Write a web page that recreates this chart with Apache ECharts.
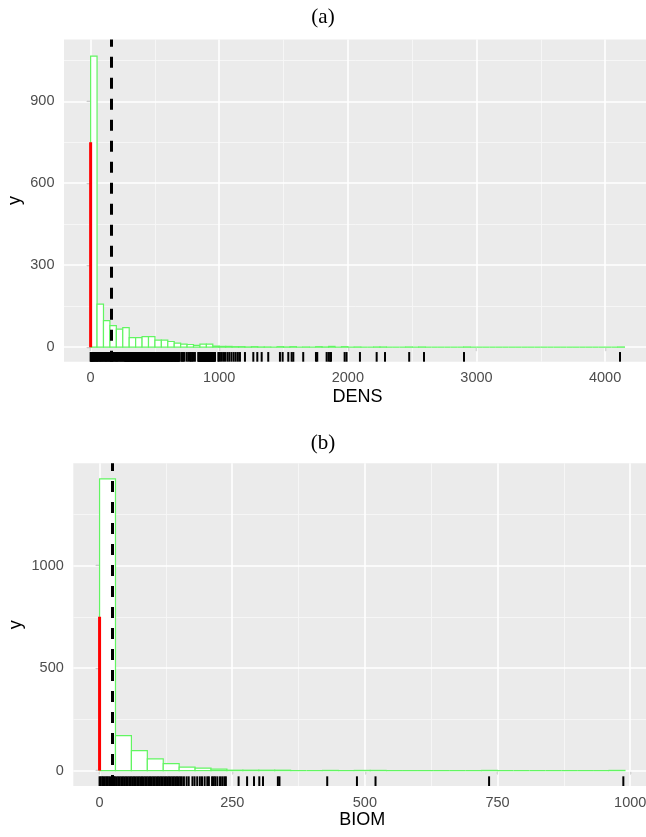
<!DOCTYPE html>
<html><head><meta charset="utf-8">
<script src="https://cdn.jsdelivr.net/npm/echarts@6/dist/echarts.min.js"></script>
<style>html,body{margin:0;padding:0;background:#fff}#c{width:646px;height:837px}</style>
</head><body><div id="c"></div>
<script>
// ---------- Panel (a): DENS ----------
const densBinWidth = 50;
const densCounts = [1065,158,97,79,66,72,35,35,39,39,26,26,21,15,11,10,7,11,11,4,
  3,3,2,2,1,2,1,1,0,2,1,2,0,1,0,2,1,3,0,2,
  0,1,0,0,1,1,0,0,0,1,0,1,0,0,0,0,0,0,1,0,
  0,0,0,0,0,0,0,0,0,0,0,0,0,0,0,0,0,0,0,0,
  0,0,1];
const densZeroCount = 750;
const densMean = 158;
const densRug = [0,3,8,12,17,21,27,33,38,44,50,55,61,68,74,80,87,93,99,106,113,119,126,132,139,145,152,158,
  165,172,178,185,192,198,205,211,218,226,233,240,247,254,262,266,270,274,277,281,285,289,292,296,300,304,
  308,312,316,320,324,328,331,335,339,343,347,351,355,359,363,367,371,375,379,383,387,391,395,399,403,407,
  411,415,419,423,427,432,436,440,444,448,452,456,460,464,468,473,477,481,485,489,493,498,502,506,510,514,
  518,523,527,531,535,539,543,548,552,556,560,565,569,573,577,582,586,590,594,599,603,607,611,616,620,625,
  629,633,637,642,646,651,655,660,664,669,673,678,682,686,690,705,712,720,728,746,759,772,780,790,798,811,
  837,841,845,849,852,856,860,864,868,872,876,880,884,888,892,896,900,905,910,914,918,922,926,930,934,938,
  942,946,950,954,958,963,967,993,1000,1014,1030,1045,1063,1078,
  1095,1112,1128,1145,1161,1200,1265,1296,1330,1381,1472,1493,1537,1563,1576,1653,1752,1762,1835,1850,
  1862,1869,1975,1990,2094,2224,2289,2477,2592,2903,4116];
const densXRange = [-207, 4357];
const densYRange = [-53, 1126];
const densMajorX = [0,1000,2000,3000,4000];
const densMinorX = [500,1500,2500,3500];
const densMajorY = [0,300,600,900];
const densMinorY = [150,450,750,1050];

// ---------- Panel (b): BIOM ----------
const biomBinWidth = 30;
const biomCounts = [1423,171,98,57,34,17,12,7,2,2,2,2,0,0,1,0,1,1,0,0,0,0,0,0,1,0,0,0,0,0,0,0,1];
const biomZeroCount = 750;
const biomMean = 24;
const biomRug = [0,2,5,7,10,13,15,18,21,24,27,29,32,35,38,41,44,47,50,53,56,59,62,65,68,71,74,77,80,83,86,
  89,92,95,98,101,104,107,110,113,116,119,122,125,128,131,134,137,140,143,146,149,152,155,
  159,164,168,175,179,184,189,193,198,203,206,212,215,218,222,227,231,235,238,
  262,278,291,301,308,336,339,429,485,520,734,987];
const biomXRange = [-49.5, 1039.5];
const biomYRange = [-75, 1499];
const biomMajorX = [0,250,500,750,1000];
const biomMinorX = [125,375,625,875];
const biomMajorY = [0,500,1000];
const biomMinorY = [250,750,1250];

const GREEN = '#62f562';
const FONT = 'Liberation Sans';

function histData(counts, bw){
  return counts.map((c,i)=>[i*bw, (i+1)*bw, c]);
}
function histRender(params, api){
  const p0 = api.coord([api.value(0), api.value(2)]);
  const p1 = api.coord([api.value(1), 0]);
  return {type:'rect', shape:{x:p0[0], y:p0[1], width:p1[0]-p0[0], height:p1[1]-p0[1]},
    style:{fill:'#fff', stroke:GREEN, lineWidth:1.2}};
}
function rugRender(yRange){
  return function(params, api){
    const v = api.value(0);
    const a = api.coord([v, yRange[0]]);
    const b = api.coord([v, yRange[0] + 0.03*(yRange[1]-yRange[0])]);
    return {type:'line', shape:{x1:a[0], y1:a[1], x2:b[0], y2:b[1]},
      style:{stroke:'#000', lineWidth:2}};
  };
}
function gridLines(mx, nx, my, ny){
  const d = [];
  nx.forEach(v=>d.push({xAxis:v, lineStyle:{color:'#f7f7f7', width:0.9, type:'solid'}}));
  ny.forEach(v=>d.push({yAxis:v, lineStyle:{color:'#f7f7f7', width:0.9, type:'solid'}}));
  mx.forEach(v=>d.push({xAxis:v, lineStyle:{color:'#ffffff', width:1.6, type:'solid'}}));
  my.forEach(v=>d.push({yAxis:v, lineStyle:{color:'#ffffff', width:1.6, type:'solid'}}));
  return d;
}
const plain = v => String(v);
function xAxisCfg(idx, range, major, name, gap){
  return {type:'value', gridIndex:idx, min:range[0], max:range[1],
    name:name, nameLocation:'middle', nameGap:gap, nameMoveOverlap:false,
    nameTextStyle:{fontFamily:FONT, fontSize:18, color:'#000'},
    axisLine:{show:false}, splitLine:{show:false},
    axisTick:{show:true, length:4, customValues:major, lineStyle:{color:'#333', width:1.1}},
    axisLabel:{customValues:major, formatter:plain, color:'#4d4d4d', fontFamily:FONT, fontSize:14.5, margin:9}};
}
function yAxisCfg(idx, range, major, gap){
  return {type:'value', gridIndex:idx, min:range[0], max:range[1],
    name:'y', nameLocation:'middle', nameGap:gap, nameRotate:90, nameMoveOverlap:false,
    nameTextStyle:{fontFamily:FONT, fontSize:18, color:'#000'},
    axisLine:{show:false}, splitLine:{show:false},
    axisTick:{show:true, length:4, customValues:major, lineStyle:{color:'#333', width:1.1}},
    axisLabel:{customValues:major, formatter:plain, color:'#4d4d4d', fontFamily:FONT, fontSize:14.5, margin:9.5}};
}
function panelSeries(i, counts, bw, zeroCount, mean, rug, yRange, mx, nx, my, ny){
  return [
    {type:'line', xAxisIndex:i, yAxisIndex:i, data:[], z:1, silent:true,
      markLine:{silent:true, symbol:['none','none'], z:1, label:{show:false}, animation:false,
        emphasis:{disabled:true}, data:gridLines(mx,nx,my,ny)}},
    {type:'custom', xAxisIndex:i, yAxisIndex:i, z:2, renderItem:histRender,
      encode:{x:[0,1], y:2}, data:histData(counts, bw), silent:true},
    {type:'line', xAxisIndex:i, yAxisIndex:i, z:3, symbol:'none', silent:true,
      data:[[0,0],[0,zeroCount]], lineStyle:{color:'#ff0000', width:3, cap:'butt'},
      markLine:{silent:true, symbol:['none','none'], z:4, label:{show:false}, animation:false,
        emphasis:{disabled:true},
        data:[{xAxis:mean, lineStyle:{color:'#000', width:3, type:[11,10]}}]}},
    {type:'custom', xAxisIndex:i, yAxisIndex:i, z:3, renderItem:rugRender(yRange),
      encode:{x:0}, data:rug.map(v=>[v]), silent:true}
  ];
}

const chart = echarts.init(document.getElementById('c'), null, {renderer:'canvas'});
chart.setOption({
  animation:false,
  backgroundColor:'#fff',
  title:[
    {text:'(a)', left:'center', top:2, textStyle:{fontFamily:'Liberation Serif', fontSize:21, fontWeight:'normal', color:'#000'}},
    {text:'(b)', left:'center', top:428, textStyle:{fontFamily:'Liberation Serif', fontSize:21, fontWeight:'normal', color:'#000'}}
  ],
  grid:[
    {left:64, top:39.5, width:587, height:322.2, show:true, backgroundColor:'#ebebeb', borderWidth:0, outerBoundsMode:'none', containLabel:false},
    {left:73.3, top:463.3, width:577.9, height:322.7, show:true, backgroundColor:'#ebebeb', borderWidth:0, outerBoundsMode:'none', containLabel:false}
  ],
  xAxis:[xAxisCfg(0, densXRange, densMajorX, 'DENS', 26), xAxisCfg(1, biomXRange, biomMajorX, 'BIOM', 25)],
  yAxis:[yAxisCfg(0, densYRange, densMajorY, 40), yAxisCfg(1, biomYRange, biomMajorY, 48)],
  series:[].concat(
    panelSeries(0, densCounts, densBinWidth, densZeroCount, densMean, densRug, densYRange, densMajorX, densMinorX, densMajorY, densMinorY),
    panelSeries(1, biomCounts, biomBinWidth, biomZeroCount, biomMean, biomRug, biomYRange, biomMajorX, biomMinorX, biomMajorY, biomMinorY)
  )
});
</script></body></html>
